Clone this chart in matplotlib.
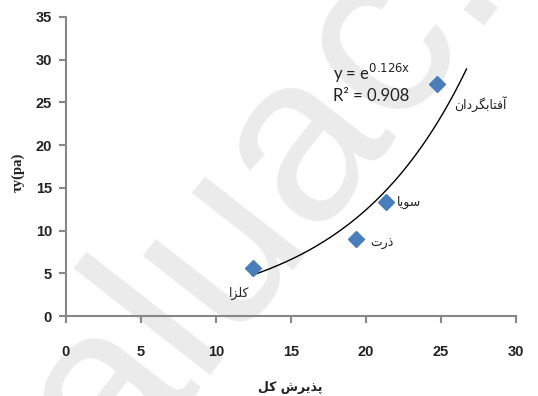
import numpy as np
import matplotlib
matplotlib.use("Agg")
import matplotlib.pyplot as plt

# ---- data ----
names = ["کلزا", "ذرت", "سویا", "آفتابگردان"]
x_vals = [12.45, 19.35, 21.3, 24.7]
y_vals = [5.6, 9.0, 13.4, 27.2]
trend_k = 0.126
trend_range = [12.4, 26.7]
x_ticks = [0, 5, 10, 15, 20, 25, 30]
y_ticks = [0, 5, 10, 15, 20, 25, 30, 35]
x_label = "پذیرش کل"
y_label = "τy(pa)"
eq_text = "y = e$^{\\mathrm{0.126x}}$\nR² = 0.908"

# ---- simple Persian shaping (presentation forms, visual order) ----
FORMS = {
    "ک": ("\uFB8E", "\uFB8F", "\uFB90", "\uFB91"),
    "گ": ("\uFB92", "\uFB93", "\uFB94", "\uFB95"),
    "پ": ("\uFB56", "\uFB57", "\uFB58", "\uFB59"),
    "ی": ("\uFBFC", "\uFBFD", "\uFBFE", "\uFBFF"),
    "ل": ("\uFEDD", "\uFEDE", "\uFEDF", "\uFEE0"),
    "ت": ("\uFE95", "\uFE96", "\uFE97", "\uFE98"),
    "س": ("\uFEB1", "\uFEB2", "\uFEB3", "\uFEB4"),
    "ش": ("\uFEB5", "\uFEB6", "\uFEB7", "\uFEB8"),
    "ف": ("\uFED1", "\uFED2", "\uFED3", "\uFED4"),
    "ب": ("\uFE8F", "\uFE90", "\uFE91", "\uFE92"),
    "ن": ("\uFEE5", "\uFEE6", "\uFEE7", "\uFEE8"),
    "ز": ("\uFEAF", "\uFEB0", None, None),
    "ا": ("\uFE8D", "\uFE8E", None, None),
    "آ": ("\uFE81", "\uFE82", None, None),
    "ذ": ("\uFEAB", "\uFEAC", None, None),
    "ر": ("\uFEAD", "\uFEAE", None, None),
    "د": ("\uFEA9", "\uFEAA", None, None),
    "و": ("\uFEED", "\uFEEE", None, None),
}


def shape(word):
    out = []
    for w in word.split(" "):
        chars = list(w)
        res = []
        for i, c in enumerate(chars):
            f = FORMS.get(c)
            if f is None:
                res.append(c)
                continue
            prev_joins = i > 0 and chars[i - 1] in FORMS and FORMS[chars[i - 1]][2] is not None
            next_exists = i < len(chars) - 1 and chars[i + 1] in FORMS
            can_left = f[2] is not None
            if prev_joins and next_exists and can_left:
                res.append(f[3])
            elif prev_joins:
                res.append(f[1])
            elif next_exists and can_left:
                res.append(f[2])
            else:
                res.append(f[0])
        out.append("".join(res[::-1]))
    return " ".join(out[::-1])


plt.rcParams["font.family"] = ["Lato", "DejaVu Sans"]

fig = plt.figure(figsize=(5.38, 3.96), dpi=100)
fig.patch.set_facecolor("white")

# watermark
fig.text(0.49, 0.51, "aluac.", fontsize=172, color="#ebebeb",
         rotation=52, ha="center", va="center", family="Liberation Sans",
         zorder=-5)

ax = fig.add_axes([66 / 538, 1 - 316 / 396, 450 / 538, 299 / 396])
ax.set_facecolor("none")
ax.set_xlim(0, 30)
ax.set_ylim(0, 35)

for s in ["top", "right"]:
    ax.spines[s].set_visible(False)
for s in ["left", "bottom"]:
    ax.spines[s].set_color("#878787")
    ax.spines[s].set_linewidth(1.5)

tick_font = dict(fontweight="bold", family="Liberation Sans", fontsize=10.5, color="#222222")
ax.set_xticks(x_ticks, labels=[str(v) for v in x_ticks], **tick_font)
ax.set_yticks(y_ticks, labels=[str(v) for v in y_ticks], **tick_font)
ax.tick_params(axis="both", direction="out", length=5, width=1.5, color="#878787")
ax.tick_params(axis="x", pad=16)
ax.tick_params(axis="y", pad=5)

# trend line
xt = np.linspace(trend_range[0], trend_range[1], 200)
ax.plot(xt, np.exp(trend_k * xt), color="black", lw=1.0, zorder=3)

# points
ax.plot(x_vals, y_vals, linestyle="none", marker="D", ms=8,
        color="#4a7ebb", markeredgecolor="#4a7ebb", zorder=4)

# labels
offsets = [(-17, -18, "left"), (10, -3, "left"), (8, -1, "left"), (13, -15, "left")]
for name, xv, yv, (dx, dy, ha) in zip(names, x_vals, y_vals, offsets):
    ax.annotate(shape(name), (xv, yv), xytext=(dx, dy), textcoords="offset points",
                ha=ha, va="center", fontsize=9, family="DejaVu Sans", color="#222222")

ax.text(0.594, 0.85, eq_text, transform=ax.transAxes, fontsize=12,
        ha="left", va="top", linespacing=1.25, color="#222222")

fig.text(290 / 538, 1 - 387 / 396, shape(x_label), ha="center", va="center",
         fontsize=9, fontweight="bold", family="DejaVu Sans", color="#222222")
fig.text(18 / 538, 1 - 172 / 396, y_label, ha="center", va="center",
         rotation=90, fontsize=10.5, fontweight="bold", family=["Liberation Serif", "DejaVu Sans"],
         color="#222222")

fig.savefig("out.png", dpi=100)
